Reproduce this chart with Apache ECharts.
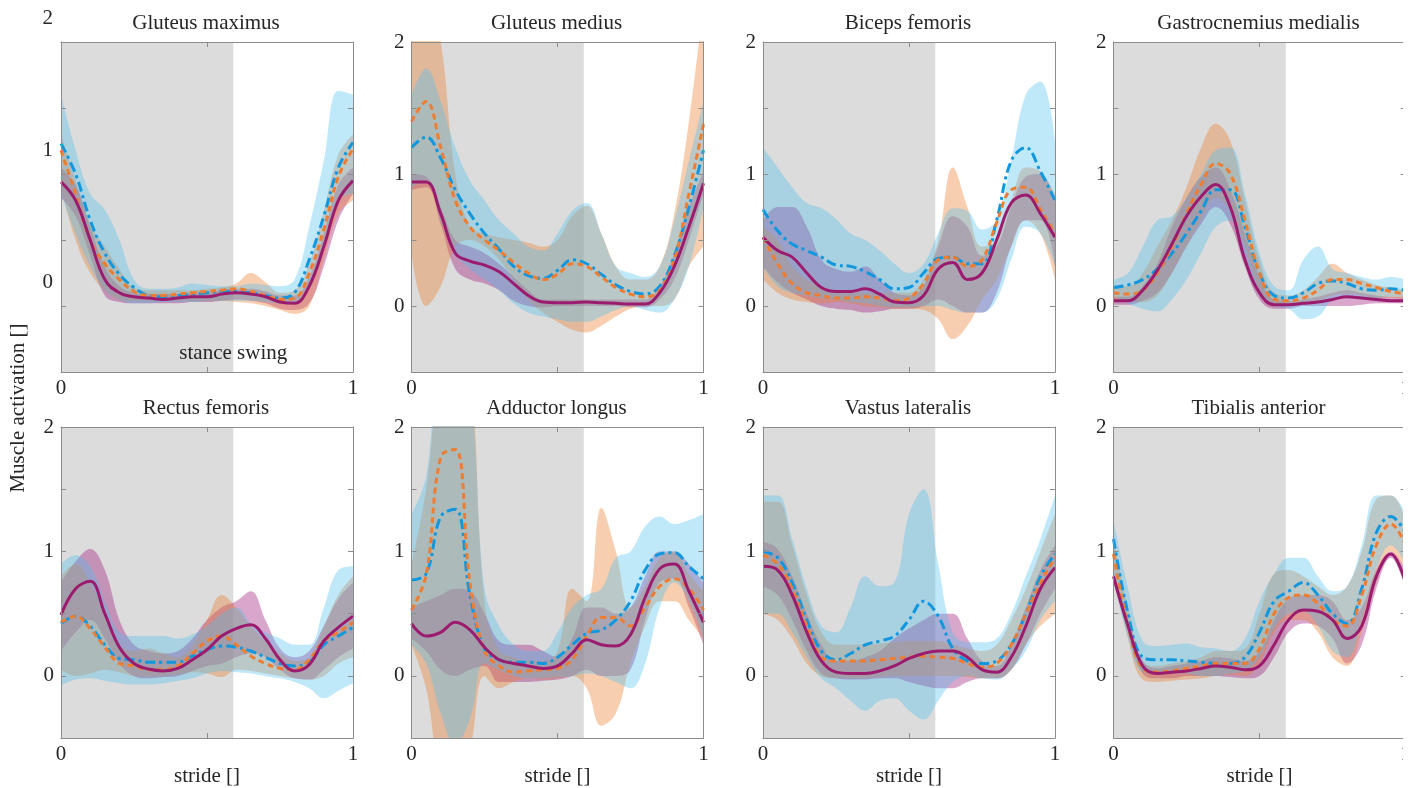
<!DOCTYPE html>
<html><head><meta charset="utf-8">
<script src="https://cdn.jsdelivr.net/npm/echarts@6.0.0/dist/echarts.min.js"></script>
<style>html,body{margin:0;padding:0;background:#fff}#c{width:1420px;height:788px}</style>
</head><body><div id="c"></div>
<script>
// ---------- data ----------
const STRIDE = [0,0.05,0.1,0.15,0.2,0.25,0.3,0.35,0.4,0.45,0.5,0.55,0.6,0.65,0.7,0.75,0.8,0.85,0.9,0.95,1];
const MUSCLES = ['Gluteus maximus','Gluteus medius','Biceps femoris','Gastrocnemius medialis',
                 'Rectus femoris','Adductor longus','Vastus lateralis','Tibialis anterior'];
const X_TICKS = [0, 0.5, 1];
const X_TICK_LABELS = ['0', '', '1'];
const Y_TICKS = [-0.5, 0, 0.5, 1, 1.5, 2];
const Y_TICK_LABELS = ['', '0', '', '1', '', '2'];
const STANCE_END = 0.59;
const X_NAME = 'stride []';
const Y_NAME = 'Muscle activation []';
const PHASE_TEXT = 'stance swing';

// Gluteus maximus
const gmaxBlue    = [1.23,1.00,0.65,0.40,0.24,0.14,0.08,0.07,0.08,0.09,0.10,0.11,0.11,0.10,0.08,0.06,0.10,0.35,0.68,1.05,1.24];
const gmaxBlueLo  = [0.85,0.55,0.30,0.12,0.05,0.02,0.02,0.03,0.03,0.03,0.04,0.04,0.04,0.04,0.03,0.02,0.03,0.15,0.45,0.80,0.85];
const gmaxBlueHi  = [1.60,1.18,0.85,0.73,0.50,0.20,0.13,0.13,0.14,0.17,0.16,0.15,0.15,0.17,0.16,0.15,0.20,0.60,1.10,1.63,1.60];
const gmaxOrange  = [1.18,0.85,0.50,0.32,0.20,0.11,0.08,0.08,0.09,0.10,0.11,0.12,0.13,0.11,0.08,0.05,0.06,0.25,0.58,0.98,1.19];
const gmaxOrangeLo= [0.90,0.50,0.25,0.12,0.05,0.04,0.04,0.04,0.04,0.04,0.04,0.04,0.03,0.02,0.00,-0.03,-0.06,0.00,0.35,0.70,0.80];
const gmaxOrangeHi= [1.30,0.95,0.62,0.45,0.28,0.14,0.12,0.12,0.12,0.12,0.13,0.14,0.17,0.25,0.18,0.10,0.12,0.32,0.72,1.15,1.30];
const gmaxPurple  = [0.94,0.80,0.50,0.20,0.10,0.07,0.06,0.05,0.06,0.07,0.07,0.09,0.10,0.09,0.07,0.03,0.02,0.15,0.45,0.80,0.95];
const gmaxPurpleLo= [0.82,0.68,0.38,0.08,0.03,0.02,0.02,0.02,0.02,0.03,0.03,0.04,0.05,0.04,0.02,-0.02,-0.03,0.02,0.30,0.65,0.85];
const gmaxPurpleHi= [1.05,0.92,0.60,0.30,0.15,0.10,0.09,0.09,0.09,0.10,0.10,0.12,0.13,0.13,0.11,0.08,0.08,0.22,0.55,0.92,1.05];

// Gluteus medius
const gmedBlue    = [1.20,1.28,1.12,0.88,0.70,0.55,0.43,0.30,0.23,0.21,0.27,0.35,0.32,0.24,0.16,0.11,0.09,0.15,0.38,0.75,1.18];
const gmedBlueLo  = [0.90,0.95,0.65,0.40,0.28,0.20,0.12,0.02,-0.05,-0.08,-0.10,-0.12,-0.12,-0.08,-0.03,0.00,-0.03,-0.05,0.05,0.30,0.75];
const gmedBlueHi  = [1.60,1.80,1.55,1.20,0.95,0.80,0.65,0.55,0.45,0.42,0.55,0.72,0.78,0.55,0.30,0.25,0.22,0.30,0.65,1.10,1.55];
const gmedOrange  = [1.40,1.55,1.20,0.80,0.60,0.50,0.42,0.33,0.25,0.20,0.24,0.32,0.30,0.22,0.14,0.09,0.07,0.12,0.35,0.85,1.38];
const gmedOrangeLo= [0.40,0.00,0.15,0.45,0.50,0.45,0.35,0.20,0.05,-0.05,-0.12,-0.18,-0.20,-0.15,-0.08,-0.02,0.00,0.00,0.05,0.30,0.45];
const gmedOrangeHi= [2.30,2.40,2.00,1.00,0.60,0.55,0.52,0.50,0.48,0.45,0.50,0.68,0.76,0.55,0.30,0.20,0.20,0.30,0.70,1.40,2.30];
const gmedPurple  = [0.94,0.94,0.70,0.40,0.34,0.31,0.26,0.17,0.08,0.03,0.025,0.025,0.03,0.025,0.02,0.015,0.015,0.10,0.30,0.60,0.93];
const gmedPurpleLo= [0.88,0.90,0.62,0.28,0.20,0.17,0.12,0.04,0.00,-0.01,0.00,0.00,0.00,0.00,0.00,-0.01,-0.01,0.05,0.20,0.50,0.85];
const gmedPurpleHi= [1.00,0.98,0.75,0.50,0.45,0.40,0.32,0.22,0.12,0.05,0.05,0.05,0.05,0.05,0.05,0.05,0.05,0.15,0.40,0.75,1.02];

// Biceps femoris
const bfBlue      = [0.73,0.57,0.47,0.42,0.37,0.31,0.30,0.26,0.20,0.13,0.14,0.25,0.36,0.37,0.32,0.32,0.65,1.10,1.20,1.02,0.80];
const bfBlueLo    = [0.30,0.15,0.10,0.08,0.06,0.05,0.03,0.02,0.00,-0.01,-0.01,0.00,0.00,-0.03,-0.05,-0.05,0.05,0.35,0.60,0.55,0.30];
const bfBlueHi    = [1.20,1.05,0.90,0.78,0.74,0.66,0.55,0.50,0.42,0.32,0.25,0.32,0.55,0.74,0.72,0.58,0.65,1.10,1.60,1.70,1.25];
const bfOrange    = [0.52,0.32,0.17,0.10,0.08,0.06,0.06,0.07,0.06,0.04,0.06,0.17,0.35,0.37,0.30,0.35,0.63,0.88,0.90,0.73,0.55];
const bfOrangeLo  = [0.20,0.10,0.05,0.03,0.02,0.03,0.02,0.00,-0.01,-0.02,-0.02,-0.03,-0.10,-0.25,-0.15,0.05,0.20,0.45,0.65,0.55,0.20];
const bfOrangeHi  = [0.60,0.50,0.30,0.20,0.15,0.12,0.12,0.10,0.10,0.10,0.10,0.20,0.50,1.05,0.75,0.45,0.50,0.80,1.05,1.02,0.85];
const bfPurple    = [0.52,0.42,0.37,0.25,0.14,0.11,0.11,0.13,0.09,0.03,0.025,0.08,0.28,0.33,0.20,0.25,0.50,0.78,0.84,0.70,0.52];
const bfPurpleLo  = [0.30,0.18,0.10,0.05,0.00,-0.02,-0.03,-0.05,-0.04,-0.02,-0.02,0.00,0.05,0.00,-0.05,-0.05,0.10,0.45,0.65,0.65,0.30];
const bfPurpleHi  = [0.65,0.75,0.75,0.60,0.35,0.28,0.26,0.30,0.20,0.10,0.08,0.15,0.45,0.68,0.60,0.38,0.45,0.75,0.98,1.00,0.78];

// Gastrocnemius medialis
const gasBlue     = [0.14,0.16,0.20,0.28,0.40,0.55,0.72,0.88,0.88,0.60,0.25,0.08,0.06,0.10,0.17,0.19,0.17,0.13,0.12,0.13,0.12];
const gasBlueLo   = [0.08,0.02,-0.02,-0.04,0.05,0.20,0.40,0.60,0.65,0.38,0.10,0.00,-0.02,-0.10,-0.08,0.05,0.08,0.05,0.06,0.07,0.07];
const gasBlueHi   = [0.20,0.25,0.45,0.65,0.68,0.82,1.00,1.18,1.20,0.85,0.40,0.15,0.12,0.35,0.45,0.28,0.25,0.22,0.20,0.22,0.20];
const gasOrange   = [0.10,0.09,0.12,0.25,0.45,0.70,0.92,1.08,1.00,0.65,0.25,0.05,0.04,0.06,0.12,0.20,0.20,0.17,0.14,0.11,0.09];
const gasOrangeLo = [0.05,0.04,0.03,0.08,0.25,0.45,0.65,0.82,0.72,0.45,0.12,0.00,0.00,0.02,0.04,0.08,0.09,0.08,0.06,0.06,0.05];
const gasOrangeHi = [0.15,0.15,0.25,0.45,0.65,0.90,1.20,1.38,1.25,0.80,0.35,0.10,0.08,0.12,0.22,0.32,0.25,0.20,0.16,0.14,0.12];
const gasPurple   = [0.04,0.04,0.12,0.27,0.47,0.68,0.83,0.92,0.75,0.35,0.10,0.01,0.01,0.02,0.03,0.05,0.07,0.06,0.05,0.04,0.04];
const gasPurpleLo = [0.01,0.01,0.04,0.10,0.25,0.45,0.62,0.75,0.62,0.30,0.05,-0.02,-0.02,0.00,0.00,0.00,0.00,0.01,0.02,0.02,0.02];
const gasPurpleHi = [0.07,0.07,0.15,0.32,0.60,0.82,0.98,1.05,0.88,0.55,0.22,0.05,0.04,0.05,0.07,0.10,0.12,0.10,0.08,0.07,0.07];

// Rectus femoris
const rfBlue      = [0.42,0.48,0.40,0.25,0.14,0.13,0.11,0.11,0.11,0.16,0.21,0.24,0.23,0.20,0.15,0.10,0.08,0.11,0.25,0.32,0.39];
const rfBlueLo    = [-0.08,-0.03,-0.02,-0.04,-0.06,-0.07,-0.07,-0.06,-0.04,-0.02,0.02,0.04,0.03,0.02,0.00,-0.02,-0.05,-0.10,-0.18,-0.12,-0.06];
const rfBlueHi    = [0.90,0.97,0.88,0.60,0.35,0.32,0.32,0.32,0.30,0.33,0.40,0.50,0.55,0.42,0.35,0.30,0.25,0.25,0.55,0.85,0.88];
const rfOrange    = [0.43,0.48,0.38,0.23,0.10,0.08,0.05,0.05,0.08,0.18,0.28,0.32,0.25,0.16,0.10,0.06,0.05,0.13,0.28,0.35,0.43];
const rfOrangeLo  = [0.05,0.00,0.02,0.05,0.03,0.00,-0.01,0.00,0.01,0.03,0.02,-0.01,0.05,0.04,0.02,0.00,-0.02,-0.03,0.00,0.10,0.15];
const rfOrangeHi  = [0.80,0.90,0.75,0.50,0.25,0.20,0.22,0.18,0.15,0.25,0.45,0.65,0.55,0.40,0.28,0.18,0.12,0.15,0.40,0.65,0.80];
const rfPurple    = [0.49,0.70,0.76,0.50,0.23,0.10,0.055,0.04,0.06,0.13,0.21,0.32,0.38,0.41,0.30,0.13,0.04,0.09,0.28,0.39,0.48];
const rfPurpleLo  = [0.20,0.35,0.45,0.30,0.10,0.00,-0.02,-0.01,0.00,0.04,0.08,0.10,0.15,0.18,0.15,0.05,-0.02,-0.03,0.05,0.15,0.22];
const rfPurpleHi  = [0.75,0.92,1.02,0.85,0.45,0.25,0.20,0.18,0.20,0.30,0.45,0.55,0.60,0.68,0.45,0.22,0.15,0.20,0.40,0.62,0.75];

// Adductor longus
const alBlue      = [0.77,0.82,1.28,1.34,0.65,0.22,0.13,0.11,0.11,0.10,0.15,0.25,0.34,0.37,0.45,0.60,0.85,0.98,0.99,0.88,0.78];
const alBlueLo    = [0.25,0.10,-0.30,-0.55,-0.35,0.10,0.05,0.00,-0.02,-0.02,-0.01,0.00,0.02,0.00,-0.05,-0.10,0.10,0.55,0.75,0.60,0.30];
const alBlueHi    = [1.30,1.60,2.50,2.50,2.30,0.70,0.40,0.25,0.20,0.20,0.35,0.55,0.65,0.70,0.95,1.00,1.20,1.28,1.22,1.25,1.30];
const alOrange    = [0.53,0.81,1.76,1.82,0.75,0.20,0.08,0.03,0.04,0.05,0.06,0.13,0.32,0.47,0.47,0.40,0.55,0.72,0.78,0.70,0.53];
const alOrangeLo  = [0.25,-0.10,-0.80,-0.90,-0.60,0.00,-0.10,-0.05,-0.02,-0.03,-0.02,0.00,-0.10,-0.40,-0.30,0.10,0.40,0.60,0.60,0.45,0.30];
const alOrangeHi  = [0.90,1.50,2.50,2.80,2.50,0.60,0.20,0.15,0.12,0.12,0.20,0.70,0.60,1.35,1.00,0.55,0.72,0.95,1.00,0.82,0.68];
const alPurple    = [0.42,0.32,0.35,0.43,0.37,0.23,0.13,0.10,0.08,0.06,0.08,0.18,0.29,0.25,0.24,0.33,0.63,0.86,0.90,0.68,0.43];
const alPurpleLo  = [0.30,0.20,0.05,0.00,0.05,0.08,-0.05,-0.05,-0.05,-0.04,-0.03,0.00,0.05,0.00,0.00,0.05,0.45,0.75,0.78,0.55,0.25];
const alPurpleHi  = [0.55,0.60,0.65,0.70,0.68,0.50,0.28,0.25,0.25,0.20,0.15,0.30,0.55,0.55,0.50,0.55,0.80,1.00,1.00,0.90,0.75];

// Vastus lateralis
const vlBlue      = [1.00,0.95,0.75,0.45,0.20,0.13,0.18,0.25,0.28,0.32,0.45,0.60,0.48,0.22,0.12,0.10,0.12,0.25,0.50,0.80,0.98];
const vlBlueLo    = [0.50,0.50,0.35,0.15,-0.02,-0.10,-0.20,-0.28,-0.20,-0.18,-0.28,-0.35,-0.20,-0.05,0.00,-0.02,-0.03,0.05,0.20,0.45,0.60];
const vlBlueHi    = [1.45,1.45,1.10,0.70,0.40,0.35,0.55,0.80,0.72,0.75,1.30,1.50,0.90,0.35,0.27,0.27,0.30,0.50,0.80,1.10,1.45];
const vlOrange    = [0.97,0.90,0.70,0.40,0.15,0.12,0.12,0.12,0.13,0.14,0.15,0.16,0.15,0.14,0.10,0.07,0.10,0.25,0.50,0.75,0.95];
const vlOrangeLo  = [0.50,0.45,0.30,0.10,0.00,-0.02,-0.02,-0.02,-0.01,0.00,0.00,0.00,0.00,0.00,-0.01,-0.02,-0.02,0.05,0.25,0.40,0.50];
const vlOrangeHi  = [1.40,1.40,1.05,0.65,0.35,0.25,0.25,0.25,0.26,0.27,0.28,0.28,0.28,0.25,0.22,0.20,0.25,0.45,0.70,1.00,1.30];
const vlPurple    = [0.88,0.85,0.65,0.35,0.12,0.03,0.02,0.02,0.04,0.08,0.14,0.18,0.20,0.20,0.15,0.05,0.03,0.15,0.40,0.70,0.87];
const vlPurpleLo  = [0.72,0.65,0.45,0.20,0.02,-0.02,-0.03,-0.03,-0.02,-0.02,-0.05,-0.08,-0.10,-0.10,-0.05,-0.02,-0.02,0.05,0.25,0.50,0.70];
const vlPurpleHi  = [1.08,1.02,0.80,0.50,0.25,0.12,0.12,0.15,0.20,0.30,0.38,0.45,0.50,0.50,0.30,0.12,0.08,0.25,0.55,0.85,1.05];

// Tibialis anterior
const taBlue      = [1.10,0.50,0.15,0.13,0.13,0.12,0.11,0.10,0.10,0.15,0.35,0.60,0.68,0.75,0.65,0.50,0.42,0.70,1.15,1.28,1.15];
const taBlueLo    = [0.80,0.30,0.03,0.02,0.02,0.02,0.00,0.00,0.02,0.04,0.15,0.38,0.50,0.52,0.40,0.20,0.15,0.45,0.85,1.05,0.90];
const taBlueHi    = [1.25,0.70,0.28,0.24,0.25,0.26,0.23,0.22,0.20,0.30,0.60,0.82,0.95,0.95,0.80,0.68,0.72,1.05,1.45,1.45,1.30];
const taOrange    = [0.98,0.40,0.06,0.03,0.04,0.06,0.08,0.10,0.10,0.10,0.22,0.50,0.63,0.65,0.58,0.45,0.40,0.65,1.05,1.22,1.05];
const taOrangeLo  = [0.85,0.30,-0.03,-0.05,-0.04,-0.03,-0.02,0.00,0.01,0.00,0.10,0.35,0.45,0.45,0.35,0.15,0.08,0.35,0.75,1.00,0.85];
const taOrangeHi  = [1.10,0.55,0.12,0.08,0.10,0.12,0.15,0.20,0.20,0.22,0.50,0.82,0.85,0.80,0.72,0.65,0.72,1.00,1.42,1.45,1.25];
const taPurple    = [0.80,0.40,0.08,0.02,0.03,0.04,0.06,0.08,0.07,0.05,0.08,0.25,0.45,0.53,0.52,0.45,0.30,0.40,0.80,0.98,0.75];
const taPurpleLo  = [0.75,0.35,0.02,-0.02,-0.02,0.00,0.00,0.00,-0.01,-0.02,0.00,0.15,0.35,0.42,0.40,0.30,0.10,0.25,0.70,0.95,0.70];
const taPurpleHi  = [0.85,0.45,0.12,0.06,0.08,0.10,0.12,0.15,0.14,0.12,0.20,0.45,0.62,0.65,0.65,0.60,0.45,0.55,0.85,1.00,0.85];

// ---------- build ----------
const PANELS = [
  {blue:[gmaxBlue,gmaxBlueLo,gmaxBlueHi], orange:[gmaxOrange,gmaxOrangeLo,gmaxOrangeHi], purple:[gmaxPurple,gmaxPurpleLo,gmaxPurpleHi]},
  {blue:[gmedBlue,gmedBlueLo,gmedBlueHi], orange:[gmedOrange,gmedOrangeLo,gmedOrangeHi], purple:[gmedPurple,gmedPurpleLo,gmedPurpleHi]},
  {blue:[bfBlue,bfBlueLo,bfBlueHi], orange:[bfOrange,bfOrangeLo,bfOrangeHi], purple:[bfPurple,bfPurpleLo,bfPurpleHi]},
  {blue:[gasBlue,gasBlueLo,gasBlueHi], orange:[gasOrange,gasOrangeLo,gasOrangeHi], purple:[gasPurple,gasPurpleLo,gasPurpleHi]},
  {blue:[rfBlue,rfBlueLo,rfBlueHi], orange:[rfOrange,rfOrangeLo,rfOrangeHi], purple:[rfPurple,rfPurpleLo,rfPurpleHi]},
  {blue:[alBlue,alBlueLo,alBlueHi], orange:[alOrange,alOrangeLo,alOrangeHi], purple:[alPurple,alPurpleLo,alPurpleHi]},
  {blue:[vlBlue,vlBlueLo,vlBlueHi], orange:[vlOrange,vlOrangeLo,vlOrangeHi], purple:[vlPurple,vlPurpleLo,vlPurpleHi]},
  {blue:[taBlue,taBlueLo,taBlueHi], orange:[taOrange,taOrangeLo,taOrangeHi], purple:[taPurple,taPurpleLo,taPurpleHi]}
];

const FONT = 'Liberation Serif';
const TXT = '#262626';
const BOX = '#8c8c8c';
const FS = 21;
const COL_LEFT = [61, 411.5, 763, 1113.5];
const ROW_TOP = [42, 427];
const W = 292, H = 330;
const LINE_COLOR = {blue:'#1197dd', orange:'#ee7d31', purple:'#9b1c6e'};
const FILL = {blue:['#4dbeee',0.36], orange:['#ed7d31',0.38], purple:['#a0207f',0.40]};
const DASH = {blue:[10,4,3,4], orange:[6,4], purple:'solid'};
const BAND_ORDER = ['purple','orange','blue'];
const LINE_ORDER = ['blue','orange','purple'];
const SMOOTH = 0.4;

const grids = [], xAxes = [], yAxes = [], series = [], titles = [];
PANELS.forEach((p, i) => {
  const r = Math.floor(i / 4), c = i % 4;
  const left = COL_LEFT[c], top = ROW_TOP[r];
  grids.push({left, top, width: W, height: H, show: false, containLabel: false});
  titles.push({text: MUSCLES[i], left: left + W / 2 - 6, top: top - 34, textAlign: 'center',
    textStyle: {fontFamily: FONT, fontSize: FS, fontWeight: 'normal', color: TXT}});
  const tick = {show: true, inside: true, length: 5, lineStyle: {color: BOX, width: 1}};
  const line = {show: true, onZero: false, lineStyle: {color: BOX, width: 1}};
  xAxes.push({gridIndex: i, type: 'value', min: 0, max: 1, interval: 0.5, position: 'bottom', z: 10,
    axisLine: line, axisTick: tick, splitLine: {show: false},
    axisLabel: {margin: 6, fontFamily: FONT, fontSize: FS, color: TXT,
      formatter: v => X_TICK_LABELS[X_TICKS.indexOf(v)] || ''},
    name: r === 1 ? X_NAME : '', nameLocation: 'middle', nameGap: 6,
    nameTextStyle: {fontFamily: FONT, fontSize: FS, color: TXT, verticalAlign: 'top'}});
  xAxes.push({gridIndex: i, type: 'value', min: 0, max: 1, interval: 0.5, position: 'top', z: 10,
    axisLine: line, axisTick: tick, splitLine: {show: false}, axisLabel: {show: false}});
  yAxes.push({gridIndex: i, type: 'value', min: -0.5, max: 2, interval: 0.5, position: 'left', z: 10,
    axisLine: line, axisTick: tick, splitLine: {show: false},
    axisLabel: {show: i !== 0, margin: 7, fontFamily: FONT, fontSize: FS, color: TXT,
      formatter: v => Y_TICK_LABELS[Y_TICKS.indexOf(v)] || ''}});
  yAxes.push({gridIndex: i, type: 'value', min: -0.5, max: 2, interval: 0.5, position: 'right', z: 10,
    axisLine: line, axisTick: tick, splitLine: {show: false}, axisLabel: {show: false}});

  const xi = 2 * i, yi = 2 * i;
  series.push({type: 'line', xAxisIndex: xi, yAxisIndex: yi, data: [], silent: true, z: 1,
    markArea: {silent: true, itemStyle: {color: '#dcdcdc', opacity: 1},
      data: [[{xAxis: 0}, {xAxis: STANCE_END}]]}});
  BAND_ORDER.forEach(k => {
    const [, lo, hi] = p[k];
    const st = 'band' + i + k;
    // value first, stride second: makes the stack run on the y dimension
    series.push({type: 'line', xAxisIndex: xi, yAxisIndex: yi, stack: st, stackStrategy: 'all',
      encode: {x: 1, y: 0}, smooth: SMOOTH, symbol: 'none', silent: true, z: 2, lineStyle: {opacity: 0},
      data: STRIDE.map((x, j) => [lo[j], x])});
    series.push({type: 'line', xAxisIndex: xi, yAxisIndex: yi, stack: st, stackStrategy: 'all',
      encode: {x: 1, y: 0}, smooth: SMOOTH, symbol: 'none', silent: true, z: 2, lineStyle: {opacity: 0},
      areaStyle: {color: FILL[k][0], opacity: FILL[k][1]},
      data: STRIDE.map((x, j) => [hi[j] - lo[j], x])});
  });
  LINE_ORDER.forEach(k => {
    const m = p[k][0];
    series.push({type: 'line', xAxisIndex: xi, yAxisIndex: yi, smooth: SMOOTH, symbol: 'none', silent: true, z: 3,
      lineStyle: {color: LINE_COLOR[k], width: 3, type: DASH[k], cap: 'butt'},
      data: STRIDE.map((x, j) => [x, m[j]])});
  });
});

const chart = echarts.init(document.getElementById('c'), null, {renderer: 'canvas'});
chart.setOption({
  animation: false, backgroundColor: '#ffffff',
  title: titles, grid: grids, xAxis: xAxes, yAxis: yAxes, series
});
// first panel: its y tick labels sit ~24px above their ticks in the original
const graphics = [];
Y_TICKS.forEach((v, j) => {
  if (!Y_TICK_LABELS[j]) return;
  const pt = chart.convertToPixel({gridIndex: 0}, [0, v]);
  graphics.push({type: 'text', x: pt[0] - 8, y: pt[1] - 24, z: 50,
    style: {text: Y_TICK_LABELS[j], textAlign: 'right', textVerticalAlign: 'middle', fontFamily: FONT, fontSize: FS, fill: TXT}});
});
const ph = chart.convertToPixel({gridIndex: 0}, [STANCE_END, -0.36]);
graphics.push(
  {type: 'text', x: ph[0], y: ph[1], z: 50, style: {text: PHASE_TEXT, textAlign: 'center', textVerticalAlign: 'middle',
    fontFamily: FONT, fontSize: FS, fill: TXT}},
  {type: 'text', x: 18, y: 408, rotation: Math.PI / 2, z: 50, style: {text: Y_NAME, textAlign: 'center', textVerticalAlign: 'middle',
    fontFamily: FONT, fontSize: FS, fill: TXT}},
  {type: 'rect', shape: {x: 1403, y: 0, width: 17, height: 788}, z: 100, style: {fill: '#ffffff'}}
);
chart.setOption({graphic: graphics});
</script></body></html>
